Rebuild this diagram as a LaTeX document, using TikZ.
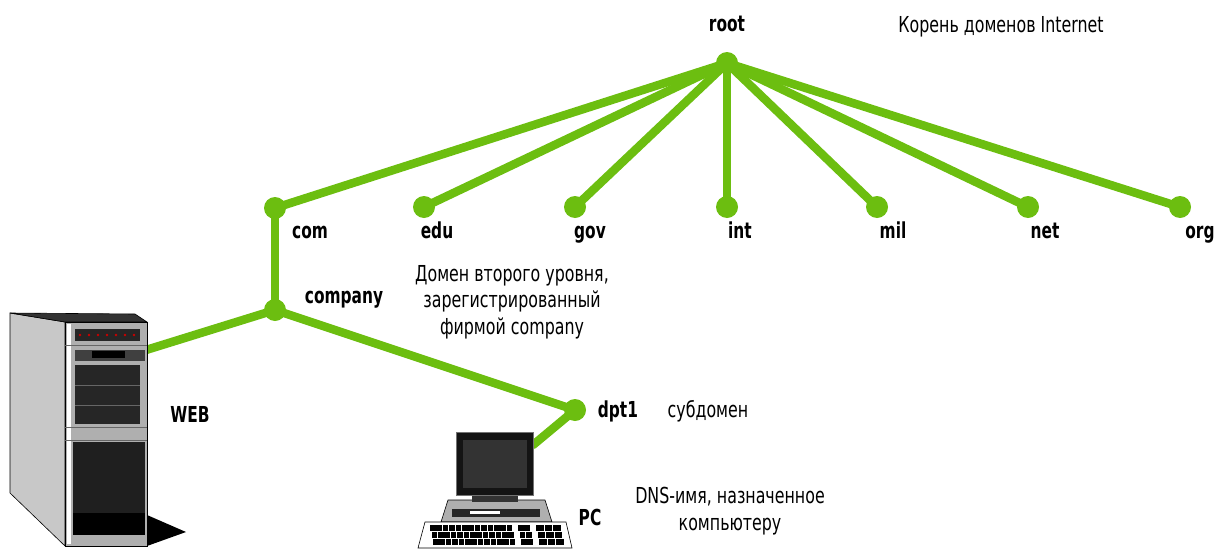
\documentclass[tikz,border=0pt]{standalone}
\usepackage{fontspec}
\newfontfamily\lblfont[FakeStretch=0.70]{DejaVu Sans}
\newfontfamily\notefont[FakeStretch=0.72]{DejaVu Sans}
\definecolor{leaf}{RGB}{108,190,16}
\definecolor{panel}{RGB}{175,175,175}
\definecolor{sidepanel}{RGB}{200,200,200}
\begin{document}
\begin{tikzpicture}[x=1pt,y=-1pt,
  dot/.style={circle,fill=leaf,inner sep=0pt,minimum size=22pt},
  link/.style={draw=leaf,line width=8.5pt,line cap=round},
  domlabel/.style={font=\lblfont\bfseries\fontsize{22}{26}\selectfont,anchor=base,inner sep=0pt},
  notetext/.style={font=\notefont\fontsize{22}{26.5}\selectfont,anchor=base,inner sep=0pt,align=center},
  thinline/.style={draw=black,line width=0.6pt}]
\useasboundingbox (0,0) rectangle (1229,549);

% ---- domain tree ----
\node[dot] (root) at (727,63) {};
\node[dot] (com) at (275,208) {};
\node[dot] (edu) at (424,207) {};
\node[dot] (gov) at (575,207) {};
\node[dot] (int) at (727,207) {};
\node[dot] (mil) at (877,207) {};
\node[dot] (net) at (1028,207) {};
\node[dot] (org) at (1180,207) {};
\node[dot] (company) at (275,310) {};
\node[dot] (dpt) at (575,410) {};
\coordinate (web) at (146,350);
\coordinate (pc) at (533,445);

\foreach \t in {com,edu,gov,int,mil,net,org}
  \draw[link] (root.center) -- (\t.center);
\draw[link] (com.center) -- (company.center);
\draw[link] (company.center) -- (web);
\draw[link] (company.center) -- (dpt.center);
\draw[link] (dpt.center) -- (pc);

% ---- labels ----
\node[domlabel] (lroot) at (727,31) {root};
\node[notetext] (lrootnote) at (1001,32) {Корень доменов Internet};
\node[domlabel] (lcom) at (310,238) {com};
\node[domlabel] (ledu) at (437,238) {edu};
\node[domlabel] (lgov) at (590,238) {gov};
\node[domlabel] (lint) at (740,238) {int};
\node[domlabel] (lmil) at (893,238) {mil};
\node[domlabel] (lnet) at (1045,238) {net};
\node[domlabel] (lorg) at (1200,238) {org};
\node[domlabel] (lcompany) at (344,303) {company};
\node[domlabel] (ldpt) at (618,417) {dpt1};
\node[notetext] (lsub) at (708,417) {субдомен};
\node[domlabel] (lweb) at (190,422) {WEB};
\node[domlabel] (lpc) at (590,525) {PC};
\node[notetext] (lsecond) at (512,334) {Домен второго уровня,\\зарегистрированный\\фирмой company};
\node[notetext] (ldns) at (730,530) {DNS-имя, назначенное\\компьютеру};

% ---- web server tower ----
\fill[black] (147,515) -- (186,532) -- (147,546) -- cycle;
\filldraw[fill=sidepanel,thinline] (10,313) -- (65,322) -- (65,546) -- (10,493) -- cycle;
\filldraw[fill=black!80,thinline] (10,313) -- (135,314) -- (147,322) -- (65,322) -- cycle;
\filldraw[fill=panel,thinline] (65,322) rectangle (147,546);
\fill[white] (67,324) rectangle (71,544);
\fill[black!85] (75,329) rectangle (140,341);
\foreach \i in {0,...,6}
  \fill[red!80!black] (80+\i*9,335) circle (1.3pt);
\fill[black!75] (75,350) rectangle (145,361);
\fill[black] (92,351) rectangle (125,358);
\fill[black!85] (75,365) rectangle (140,424);
\draw[black!60,line width=0.5pt] (75,385) -- (140,385) (75,405) -- (140,405);
\draw[black!60,line width=0.5pt] (65,345) -- (147,345) (65,427) -- (147,427) (65,440) -- (147,440);
\fill[black!88] (73,442) rectangle (145,535);
\fill[black] (73,513) rectangle (145,535);

% ---- desktop PC ----
\filldraw[fill=panel,thinline] (448,500) -- (545,500) -- (552,522) -- (441,522) -- cycle;
\fill[black!85] (452,509) rectangle (540,517);
\fill[white] (470,511) rectangle (500,514);
\fill[black!80] (472,493) rectangle (518,502);
\filldraw[fill=black!92,draw=black!55,line width=1pt] (456,432) rectangle (533,495);
\fill[black!80] (463,440) rectangle (527,488);
\filldraw[fill=white,thinline] (425,522) -- (566,522) -- (572,548) -- (418,548) -- cycle;
\foreach \r in {0,1,2} {
  \foreach \k in {0,...,12}
    \fill[black] (430+\k*6.4+\r*1.5,525+\r*7) rectangle ++(5.6,5.6);
  \foreach \k in {0,1}
    \fill[black] (518+\k*6.4+\r*1.5,525+\r*7) rectangle ++(5.6,5.6);
  \foreach \k in {0,...,2}
    \fill[black] (536+\k*8.5+\r*1.5,525+\r*7) rectangle ++(7.5,5.6);
}
\end{tikzpicture}
\end{document}
